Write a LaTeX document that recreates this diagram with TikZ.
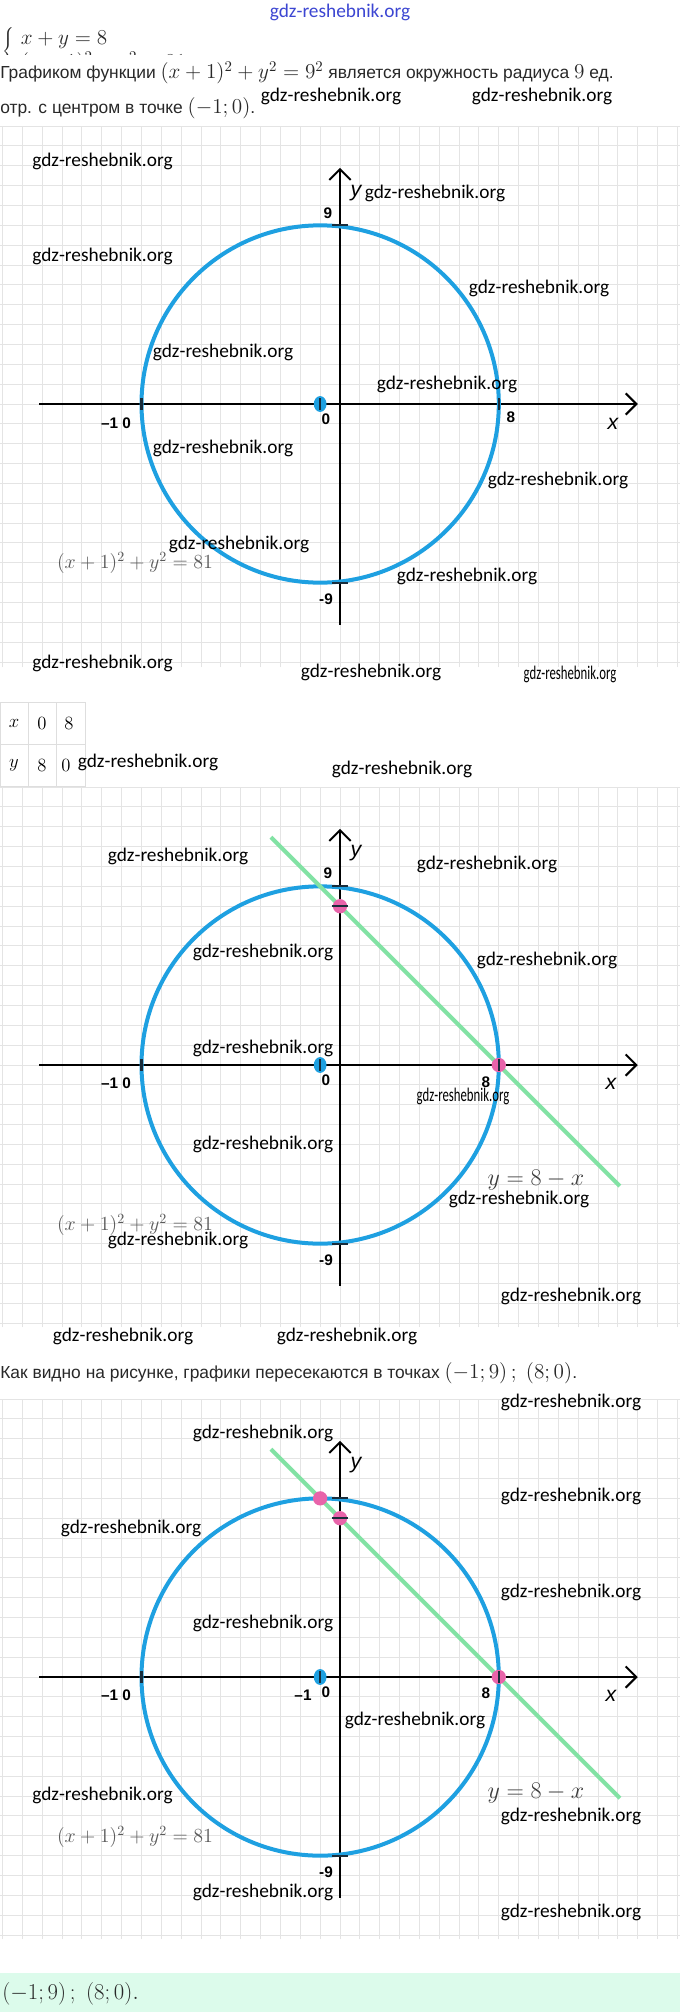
\RequirePackage{fix-cm}
\documentclass[tikz,border=0pt]{standalone}
\usepackage[no-math]{fontspec}
\newfontfamily\rus{Liberation Sans}
\newfontfamily\wmfont{Carlito}
\newfontfamily\lblfont{Liberation Sans}
\usetikzlibrary{arrows.meta}
\definecolor{cblue}{RGB}{30,160,225}
\definecolor{cgreen}{RGB}{130,226,164}
\definecolor{cpink}{RGB}{232,100,170}
\definecolor{cgrid}{RGB}{228,228,228}
\definecolor{ctext}{RGB}{40,40,40}
\definecolor{cform}{RGB}{90,90,90}
\definecolor{cform2}{RGB}{60,60,60}
\definecolor{cans}{RGB}{220,251,235}
\definecolor{cwmblue}{RGB}{60,70,210}
\definecolor{ctick}{RGB}{25,45,60}
\definecolor{ctab}{RGB}{222,222,222}
\newcommand\mymath[1]{{\fontsize{15.9}{18}\selectfont$#1$}}
\tikzset{
  wm/.style={font=\wmfont\fontsize{14.5}{16}\selectfont, inner sep=0pt},
  num/.style={font=\lblfont\bfseries\fontsize{11.5}{13}\selectfont, inner sep=0pt},
  axl/.style={font=\lblfont\itshape\fontsize{16}{18}\selectfont, inner sep=0pt},
  formula/.style={text=cform, inner sep=0pt, font=\fontsize{15}{18}\selectfont},
  bigform/.style={text=cform2, inner sep=0pt, font=\fontsize{18}{22}\selectfont},
  ruline/.style={anchor=base west, inner sep=0pt, text=ctext, font=\rus\fontsize{13.05}{15}\selectfont},
  cellt/.style={inner sep=0pt, font=\fontsize{14}{16}\selectfont},
  gridl/.style={draw=cgrid, line width=0.75pt},
  axisl/.style={draw=black, line width=1.5pt, -{Straight Barb[length=8pt,width=16pt,line width=1.5pt]}},
  circ/.style={draw=cblue, line width=3pt},
  gline/.style={draw=cgreen, line width=3pt},
  tickm/.style={draw=ctick, line width=1.6pt},
  tabl/.style={draw=ctab, line width=0.75pt},
}
\begin{document}
\begin{tikzpicture}[x=0.75pt,y=-0.75pt]
\useasboundingbox (0,0) rectangle (680,2012);
\fill[white] (0,0) rectangle (680,2012);
% ---------- header ----------
\node[wm, text=cwmblue] (wtop) at (340,12) {gdz-reshebnik.org};
\begin{scope}
  \clip (0,0) rectangle (680,55);
  \node[anchor=base west, inner sep=0pt, text=ctext, font=\fontsize{15.9}{18}\selectfont] (sys) at (2,57)
    {\smash{$\left\{\begin{array}{l} x+y=8\\ (x+1)^2+y^2=81\end{array}\right.$}};
\end{scope}
\node[ruline] (t1) at (0,79) {Графиком функции \mymath{(x+1)^2+y^2=9^2} является окружность радиуса \mymath{9} ед.};
\node[ruline] (t2) at (0,114) {отр. с центром в точке \mymath{(-1;0)}.};
% ---------- graph 1 ----------
\begin{scope}[shift={(340,404)}, x=14.8875pt, y=14.8875pt]
  \draw[gridl, step=1] (-17.13,-13.25) grid (17.13,14);
  \coordinate (a1l) at (-15.16,0); \coordinate (a1r) at (15,0);
  \coordinate (a1b) at (0,-11.13); \coordinate (a1t) at (0,11.9);
  \draw[axisl] (a1l) -- (a1r);
  \draw[axisl] (a1b) -- (a1t);
  \draw[circ] (-1,0) circle [radius=9];
  \fill[cblue] (-1,0) ellipse [x radius=0.32, y radius=0.4];
  \draw[tickm] (-1,-0.3) -- (-1,0.3);
  \draw[tickm] (-10,-0.28) -- (-10,0.28);
  \draw[tickm] (8,-0.28) -- (8,0.28);
  \draw[tickm] (-0.4,9) -- (0.4,9);
  \draw[tickm] (-0.4,-9) -- (0.4,-9);
\end{scope}
\node[num] (g1n9) at (328,213) {9};
\node[axl] (g1y) at (356,193) {y};
\node[num] (g1m10) at (116,423) {–1 0};
\node[num] (g1n0) at (326,419) {0};
\node[num] (g1n8) at (511,417) {8};
\node[axl] (g1x) at (613,424) {x};
\node[num] (g1m9) at (326,599) {-9};
\node[formula] (g1f) at (135,563) {$(x+1)^2+y^2=81$};
% ---------- table ----------
\draw[tabl] (0,702) rectangle (85,786);
\draw[tabl] (28,702) -- (28,786);
\draw[tabl] (56,702) -- (56,786);
\draw[tabl] (0,744) -- (85,744);
\node[cellt] (c11) at (14,723) {$x$};
\node[cellt] (c12) at (42,723) {$0$};
\node[cellt] (c13) at (69,723) {$8$};
\node[cellt] (c21) at (14,765) {$y$};
\node[cellt] (c22) at (42,765) {$8$};
\node[cellt] (c23) at (66,765) {$0$};
% ---------- graph 2 ----------
\begin{scope}[shift={(340,1065)}, x=14.8875pt, y=14.8875pt]
  \draw[gridl, step=1] (-17.13,-13.2) grid (17.13,14);
  \coordinate (a2l) at (-15.16,0); \coordinate (a2r) at (15,0);
  \coordinate (a2b) at (0,-11.13); \coordinate (a2t) at (0,11.9);
  \draw[axisl] (a2l) -- (a2r);
  \draw[axisl] (a2b) -- (a2t);
  \draw[circ] (-1,0) circle [radius=9];
  \coordinate (l2a) at (-3.48,11.48); \coordinate (l2b) at (14.1,-6.1);
  \draw[gline] (l2a) -- (l2b);
  \fill[cblue] (-1,0) ellipse [x radius=0.32, y radius=0.4];
  \draw[tickm] (-1,-0.3) -- (-1,0.3);
  \draw[tickm] (-10,-0.28) -- (-10,0.28);
  \draw[tickm] (-0.4,9) -- (0.4,9);
  \draw[tickm] (-0.4,-9) -- (0.4,-9);
  \fill[cpink] (0,8) circle [radius=0.36];
  \draw[tickm] (-0.42,8) -- (0.42,8);
  \fill[cpink] (8,0) circle [radius=0.36];
  \draw[tickm] (8,-0.28) -- (8,0.28);
\end{scope}
\node[axl] (g2y) at (356,853) {y};
\node[num] (g2n9) at (328,873) {9};
\node[num] (g2m10) at (116,1083) {–1 0};
\node[num] (g2n0) at (326,1080) {0};
\node[num] (g2n8) at (486,1082) {8};
\node[axl] (g2x) at (611,1084) {x};
\node[num] (g2m9) at (326,1260) {-9};
\node[bigform] (g2l) at (536,1180) {$y=8-x$};
\node[formula] (g2f) at (135,1225) {$(x+1)^2+y^2=81$};
% ---------- text ----------
\node[ruline] (t3) at (0,1378) {Как видно на рисунке, графики пересекаются в точках \mymath{(-1;9)\,;\ (8;0)}.};
% ---------- graph 3 ----------
\begin{scope}[shift={(340,1677)}, x=14.8875pt, y=14.8875pt]
  \draw[gridl, step=1] (-17.13,-13.2) grid (17.13,14);
  \coordinate (a3l) at (-15.16,0); \coordinate (a3r) at (15,0);
  \coordinate (a3b) at (0,-11.13); \coordinate (a3t) at (0,11.9);
  \draw[axisl] (a3l) -- (a3r);
  \draw[axisl] (a3b) -- (a3t);
  \draw[circ] (-1,0) circle [radius=9];
  \coordinate (l3a) at (-3.48,11.48); \coordinate (l3b) at (14.1,-6.1);
  \draw[gline] (l3a) -- (l3b);
  \fill[cblue] (-1,0) ellipse [x radius=0.32, y radius=0.4];
  \draw[tickm] (-1,-0.3) -- (-1,0.3);
  \draw[tickm] (-10,-0.28) -- (-10,0.28);
  \draw[tickm] (-0.4,9) -- (0.4,9);
  \draw[tickm] (-0.4,-9) -- (0.4,-9);
  \fill[cpink] (-1,9) circle [radius=0.36];
  \fill[cpink] (0,8) circle [radius=0.36];
  \draw[tickm] (-0.42,8) -- (0.42,8);
  \fill[cpink] (8,0) circle [radius=0.36];
  \draw[tickm] (8,-0.28) -- (8,0.28);
\end{scope}
\node[axl] (g3y) at (356,1465) {y};
\node[num] (g3m10) at (116,1695) {–1 0};
\node[num] (g3m1) at (303,1695) {–1};
\node[num] (g3n0) at (326,1692) {0};
\node[num] (g3n8) at (486,1693) {8};
\node[axl] (g3x) at (611,1696) {x};
\node[num] (g3m9) at (326,1872) {-9};
\node[bigform] (g3l) at (536,1793) {$y=8-x$};
\node[formula] (g3f) at (135,1837) {$(x+1)^2+y^2=81$};
% ---------- answer ----------
\fill[cans] (0,1973) rectangle (680,2012);
\node[anchor=base west, inner sep=0pt, text=ctext, font=\fontsize{17}{20}\selectfont] (ans) at (2,1999) {$(-1;9)\,;\ (8;0).$};
% ---------- watermarks ----------
\foreach \p [count=\i] in {(331,96),(542,96),
  (102.5,161),(435,193),(102.5,256),(539,288),(223,352),(447,384),(223,448),(558,480),(239,544),(467,576),(102.5,663),(371,672),
  (148,762),(402,769),
  (178,856),(487,864),(263,952),(547,960),(263,1048),(263,1144),(519,1199),(178,1240),(571,1296),(123,1336),(347,1336),
  (571,1402),(263,1433),(571,1496),(131,1528),(571,1592),(263,1623),(415,1720),(102.5,1795),(571,1816),(263,1892),(571,1912)}
  \node[wm] (w\i) at \p {gdz-reshebnik.org};
\node[wm] (ws1) at (570,674) {\scalebox{0.66}[1]{gdz-reshebnik.org}};
\node[wm] (ws2) at (463,1096) {\scalebox{0.66}[1]{gdz-reshebnik.org}};
\end{tikzpicture}
\end{document}
